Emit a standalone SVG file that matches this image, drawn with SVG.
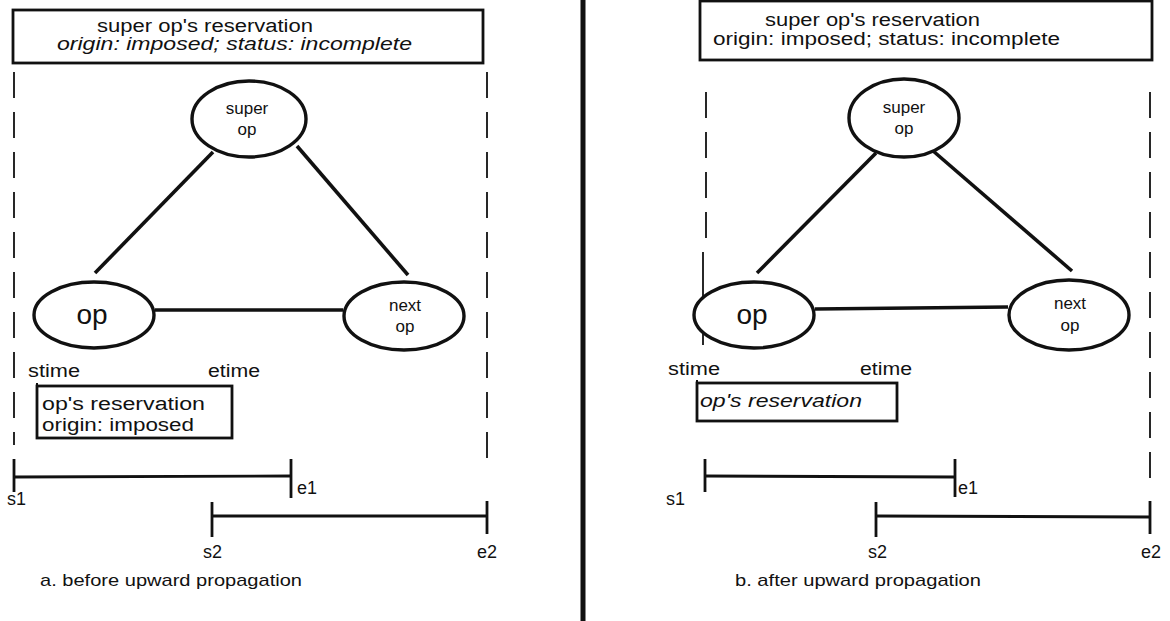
<svg xmlns="http://www.w3.org/2000/svg" width="1170" height="621" viewBox="0 0 1170 621">
<style>
text{font-family:"Liberation Sans",Arial,sans-serif;fill:#111}
.box{fill:none;stroke:#111;stroke-width:2.8}
.ell{fill:#fff;stroke:#111;stroke-width:3.4}
.dash{stroke:#111;stroke-width:1.8;stroke-dasharray:26 14;fill:none}
.bar{stroke:#111;stroke-width:2.8;fill:none}
.edge{stroke:#111;stroke-width:3.6;fill:none}
.t17{font-size:17px}
.t18{font-size:18px}
.it{font-style:italic}
</style>
<rect width="1170" height="621" fill="#fff"/>
<line x1="583" y1="0" x2="583" y2="621" stroke="#111" stroke-width="5"/>
<g id="panelA-frame">
<line class="dash" x1="14" y1="72" x2="14" y2="445"/>
<line class="dash" x1="487" y1="72" x2="487" y2="470"/>
</g>
<g id="panelB-frame">
<line class="dash" x1="706" y1="92" x2="706" y2="250"/>
<line x1="703" y1="252" x2="703" y2="345" stroke="#111" stroke-width="1.8"/>
<line class="dash" x1="1150" y1="92" x2="1150" y2="480"/>
</g>
<g id="connectors">
<line class="edge" x1="213" y1="152" x2="95" y2="273"/>
<line class="edge" x1="297" y1="146" x2="408" y2="275"/>
<line class="edge" x1="155" y1="310" x2="343" y2="310" stroke-width="2.8"/>
<line class="edge" x1="876" y1="153" x2="757" y2="273"/>
<line class="edge" x1="932" y1="150" x2="1072" y2="271"/>
<line class="edge" x1="815" y1="309" x2="1008" y2="307" stroke-width="2.8"/>
</g>
<g id="a-super-res">
<rect class="box" x="13" y="10" width="470" height="53"/>
<text class="t18" x="97" y="32" textLength="216" lengthAdjust="spacingAndGlyphs">super op's reservation</text>
<text class="t18 it" x="57" y="50" textLength="355" lengthAdjust="spacingAndGlyphs">origin: imposed;  status: incomplete</text>
</g>
<g id="a-superop">
<ellipse class="ell" cx="249" cy="119" rx="57" ry="38"/>
<text class="t17" x="247" y="114" text-anchor="middle">super</text>
<text class="t17" x="247" y="135" text-anchor="middle">op</text>
</g>
<g id="a-op">
<ellipse class="ell" cx="94" cy="315" rx="60" ry="33"/>
<text x="92" y="324" font-size="28" text-anchor="middle">op</text>
</g>
<g id="a-nextop">
<ellipse class="ell" cx="404" cy="316" rx="60" ry="34"/>
<text class="t17" x="405" y="311" text-anchor="middle">next</text>
<text class="t17" x="405" y="332" text-anchor="middle">op</text>
</g>
<g id="a-op-res">
<text class="t18" x="28" y="377" textLength="52" lengthAdjust="spacingAndGlyphs">stime</text>
<text class="t18" x="208" y="377" textLength="52" lengthAdjust="spacingAndGlyphs">etime</text>
<line x1="37" y1="383" x2="37" y2="392" stroke="#111" stroke-width="2"/>
<rect class="box" x="37" y="386" width="195" height="52"/>
<text class="t18" x="42" y="410" textLength="163" lengthAdjust="spacingAndGlyphs">op's reservation</text>
<text class="t18" x="42" y="431" textLength="152" lengthAdjust="spacingAndGlyphs">origin: imposed</text>
</g>
<g id="a-timeline">
<line class="bar" x1="14" y1="459" x2="14" y2="492"/>
<line class="bar" x1="14" y1="477" x2="291" y2="476"/>
<line class="bar" x1="291" y1="459" x2="291" y2="498"/>
<text class="t18" x="297" y="494">e1</text>
<text class="t18" x="7" y="505">s1</text>
<line class="bar" x1="212" y1="502" x2="212" y2="537"/>
<line class="bar" x1="212" y1="516" x2="487" y2="516"/>
<line class="bar" x1="487" y1="501" x2="487" y2="534"/>
<text class="t18" x="203" y="558">s2</text>
<text class="t18" x="477" y="558">e2</text>
<text class="t17" x="40" y="586" textLength="262" lengthAdjust="spacingAndGlyphs">a. before upward propagation</text>
</g>
<g id="b-super-res">
<rect class="box" x="700" y="1" width="452" height="59"/>
<text class="t18" x="765" y="26" textLength="215" lengthAdjust="spacingAndGlyphs">super op's reservation</text>
<text class="t18" x="713" y="45" textLength="347" lengthAdjust="spacingAndGlyphs">origin: imposed;  status: incomplete</text>
</g>
<g id="b-superop">
<ellipse class="ell" cx="904" cy="118" rx="55" ry="39"/>
<text class="t17" x="904" y="113" text-anchor="middle">super</text>
<text class="t17" x="904" y="134" text-anchor="middle">op</text>
</g>
<g id="b-op">
<ellipse class="ell" cx="754" cy="315" rx="60" ry="33"/>
<text x="752" y="324" font-size="28" text-anchor="middle">op</text>
</g>
<g id="b-nextop">
<ellipse class="ell" cx="1069" cy="315" rx="60" ry="35"/>
<text class="t17" x="1070" y="309" text-anchor="middle">next</text>
<text class="t17" x="1070" y="331" text-anchor="middle">op</text>
</g>
<g id="b-op-res">
<text class="t18" x="668" y="375" textLength="52" lengthAdjust="spacingAndGlyphs">stime</text>
<text class="t18" x="860" y="375" textLength="52" lengthAdjust="spacingAndGlyphs">etime</text>
<line x1="697" y1="380" x2="697" y2="389" stroke="#111" stroke-width="2"/>
<rect class="box" x="697" y="383" width="200" height="38"/>
<text class="t18 it" x="700" y="407" textLength="162" lengthAdjust="spacingAndGlyphs">op's reservation</text>
</g>
<g id="b-timeline">
<line class="bar" x1="705" y1="459" x2="705" y2="492"/>
<line class="bar" x1="705" y1="476" x2="955" y2="477"/>
<line class="bar" x1="955" y1="459" x2="955" y2="497"/>
<text class="t18" x="958" y="494">e1</text>
<text class="t18" x="666" y="505">s1</text>
<line class="bar" x1="876" y1="502" x2="876" y2="537"/>
<line class="bar" x1="876" y1="516" x2="1150" y2="517"/>
<line class="bar" x1="1150" y1="501" x2="1150" y2="534"/>
<text class="t18" x="868" y="558">s2</text>
<text class="t18" x="1141" y="558">e2</text>
<text class="t17" x="735" y="586" textLength="246" lengthAdjust="spacingAndGlyphs">b. after upward propagation</text>
</g>
</svg>
